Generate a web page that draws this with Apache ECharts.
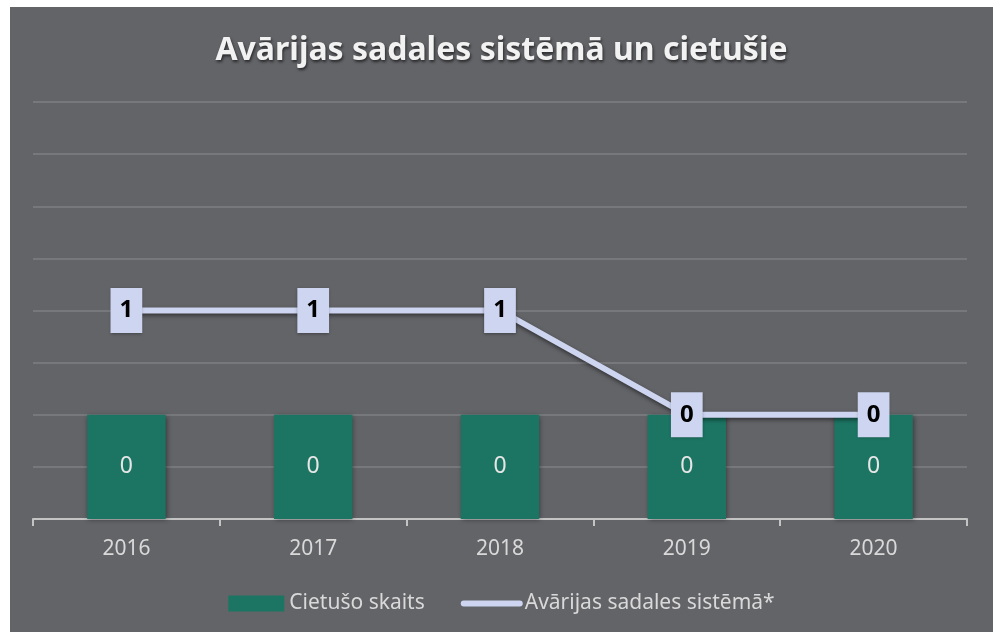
<!DOCTYPE html>
<html>
<head>
<meta charset="utf-8">
<script src="https://cdn.jsdelivr.net/npm/echarts@6/dist/echarts.min.js"></script>
<style>
  html, body { margin: 0; padding: 0; background: #ffffff; }
  #chart { position: absolute; left: 10px; top: 7px; width: 983px; height: 625px; }
</style>
</head>
<body>
<div id="chart"></div>
<script>
// dati no attēla
const years = ['2016', '2017', '2018', '2019', '2020'];
const cietusoSkaits = [0, 0, 0, 0, 0];
const avarijas = [1, 1, 1, 0, 0];
const yTicks = { min: -1, max: 3, interval: 0.5 };

const myChart = echarts.init(document.getElementById('chart'));

const option = {
  backgroundColor: '#636468',
  animation: false,
  title: {
    text: 'Avārijas sadales sistēmā un cietušie',
    left: 'center',
    top: 23,
    textStyle: {
      color: '#f2f2f2',
      fontFamily: 'Noto Sans',
      fontWeight: 'bold',
      fontSize: 32,
      textShadowColor: 'rgba(0,0,0,0.6)',
      textShadowBlur: 3,
      textShadowOffsetX: 1,
      textShadowOffsetY: 2
    }
  },
  legend: {
    bottom: 13,
    left: 'center',
    itemWidth: 56,
    itemHeight: 16,
    itemGap: 36,
    textStyle: { color: '#d9d9d9', fontFamily: 'Noto Sans', fontSize: 21 },
    data: [
      { name: 'Cietušo skaits', icon: 'rect' },
      { name: 'Avārijas sadales sistēmā*', itemStyle: { opacity: 0 }, lineStyle: { width: 6, cap: 'round' } }
    ]
  },
  grid: { left: 23, right: 26, top: 95, bottom: 113 },
  xAxis: {
    type: 'category',
    data: years,
    axisLine: { onZero: false, lineStyle: { color: '#c4c4c4', width: 2 } },
    axisTick: { show: true, length: 7, lineStyle: { color: '#c4c4c4', width: 2 } },
    axisLabel: { color: '#d9d9d9', fontFamily: 'Noto Sans', fontSize: 21, margin: 20 }
  },
  yAxis: {
    type: 'value',
    min: yTicks.min,
    max: yTicks.max,
    interval: yTicks.interval,
    axisLabel: { show: false },
    axisLine: { show: false },
    axisTick: { show: false },
    splitLine: { lineStyle: { color: '#77787c', width: 2 } }
  },
  series: [
    {
      name: 'Cietušo skaits',
      type: 'custom',
      itemStyle: { color: '#1c7563' },
      data: cietusoSkaits.map((v, i) => [i, v]),
      renderItem: function (params, api) {
        const x = api.value(0);
        const top = api.coord([x, api.value(1)]);
        const base = api.coord([x, yTicks.min]);
        const w = api.size([1, 0])[0] * 0.42;
        return {
          type: 'rect',
          shape: { x: top[0] - w / 2, y: top[1], width: w, height: base[1] - top[1] },
          style: {
            fill: '#1c7563',
            shadowColor: 'rgba(0,0,0,0.45)',
            shadowBlur: 5,
            shadowOffsetX: 1,
            shadowOffsetY: 1
          },
          textContent: {
            style: {
              text: String(api.value(1)),
              fill: '#e6e6e6',
              fontFamily: 'Noto Sans',
              fontSize: 23
            }
          },
          textConfig: { position: 'inside' }
        };
      }
    },
    {
      name: 'Avārijas sadales sistēmā*',
      type: 'line',
      data: avarijas,
      symbol: 'circle',
      symbolSize: 1,
      showSymbol: true,
      itemStyle: { color: '#cdd5f0' },
      lineStyle: {
        color: '#cdd5f0',
        width: 6,
        shadowColor: 'rgba(0,0,0,0.5)',
        shadowBlur: 4,
        shadowOffsetY: 2
      },
      label: {
        show: true,
        position: 'inside',
        color: '#000000',
        fontFamily: 'Noto Sans',
        fontWeight: 'bold',
        fontSize: 24,
        backgroundColor: '#cdd5f0',
        padding: [11, 9, 10, 9],
        shadowColor: 'rgba(0,0,0,0.35)',
        shadowBlur: 3,
        shadowOffsetY: 1
      }
    }
  ]
};

myChart.setOption(option);
window.addEventListener('resize', myChart.resize);
</script>
</body>
</html>
